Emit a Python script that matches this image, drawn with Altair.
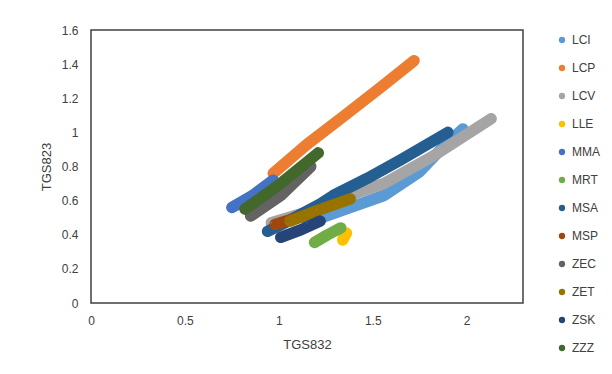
import altair as alt
import pandas as pd

# Series (TGS832 on x, TGS823 on y)
names = ["LCI", "LCP", "LCV", "LLE", "MMA", "MRT", "MSA", "MSP", "ZEC", "ZET", "ZSK", "ZZZ"]
colors = ["#5B9BD5", "#ED7D31", "#A5A5A5", "#FFC000", "#4472C4", "#70AD47",
          "#255E91", "#9E480E", "#636363", "#997300", "#264478", "#43682B"]

LCI_x = [1.15, 1.33, 1.56, 1.75, 1.88, 1.98]
LCI_y = [0.47, 0.54, 0.63, 0.77, 0.92, 1.02]
LCP_x = [0.97, 1.15, 1.34, 1.55, 1.72]
LCP_y = [0.76, 0.93, 1.09, 1.27, 1.42]
LCV_x = [0.96, 1.20, 1.40, 1.56, 1.82, 2.13]
LCV_y = [0.47, 0.55, 0.64, 0.70, 0.86, 1.08]
LLE_x = [1.34, 1.36]
LLE_y = [0.37, 0.41]
MMA_x = [0.75, 0.86, 0.97]
MMA_y = [0.56, 0.63, 0.72]
MRT_x = [1.19, 1.26, 1.33]
MRT_y = [0.355, 0.40, 0.44]
MSA_x = [0.94, 1.05, 1.22, 1.29, 1.47, 1.65, 1.90]
MSA_y = [0.42, 0.48, 0.58, 0.63, 0.73, 0.84, 1.00]
MSP_x = [0.98, 1.04, 1.10]
MSP_y = [0.46, 0.48, 0.50]
ZEC_x = [0.85, 1.01, 1.17]
ZEC_y = [0.51, 0.63, 0.80]
ZET_x = [1.06, 1.20, 1.38]
ZET_y = [0.48, 0.54, 0.61]
ZSK_x = [1.01, 1.12, 1.22]
ZSK_y = [0.385, 0.43, 0.48]
ZZZ_x = [0.82, 1.01, 1.21]
ZZZ_y = [0.55, 0.70, 0.88]

xs = [LCI_x, LCP_x, LCV_x, LLE_x, MMA_x, MRT_x, MSA_x, MSP_x, ZEC_x, ZET_x, ZSK_x, ZZZ_x]
ys = [LCI_y, LCP_y, LCV_y, LLE_y, MMA_y, MRT_y, MSA_y, MSP_y, ZEC_y, ZET_y, ZSK_y, ZZZ_y]

x_ticks = [0, 0.5, 1, 1.5, 2]
y_ticks = [0, 0.2, 0.4, 0.6, 0.8, 1, 1.2, 1.4, 1.6]

rows = []
for n, xv, yv in zip(names, xs, ys):
    for i, (a, b) in enumerate(zip(xv, yv)):
        rows.append({"series": n, "TGS832": a, "TGS823": b, "idx": i})
df = pd.DataFrame(rows)

FONT = "Liberation Sans Narrow, Liberation Sans, sans-serif"

xenc = alt.X("TGS832:Q",
             scale=alt.Scale(domain=[0, 2.3], nice=False, zero=True),
             axis=alt.Axis(values=x_ticks, title="TGS832", grid=False, ticks=False,
                           domain=False, labelPadding=12, titlePadding=12,
                           labelFlush=False, format="~g"))
yenc = alt.Y("TGS823:Q",
             scale=alt.Scale(domain=[0, 1.6], nice=False),
             axis=alt.Axis(values=y_ticks, title="TGS823", grid=False, ticks=False,
                           domain=False, labelPadding=13, titlePadding=8,
                           labelFlush=False, format="~g"))
cscale = alt.Scale(domain=names, range=colors)

base = alt.Chart(df)

lines = base.mark_line(
    strokeWidth=11.5, strokeCap="round", strokeJoin="round"
).encode(
    x=xenc, y=yenc,
    color=alt.Color("series:N", scale=cscale, legend=None),
    order="idx:Q",
)

dots = base.mark_circle(size=1, opacity=1).encode(
    x=xenc, y=yenc,
    color=alt.Color("series:N", scale=cscale,
                    legend=alt.Legend(
                        title=None, orient="none", legendX=465, legendY=4,
                        symbolType="circle", symbolSize=40, symbolStrokeWidth=0,
                        symbolOpacity=1,
                        rowPadding=16, labelFontSize=12, labelOffset=4)),
)

chart = alt.layer(lines, dots).resolve_legend(color="independent").properties(
    width=432, height=273,
    autosize="none",
    padding={"left": 91, "top": 30, "right": 89, "bottom": 71},
).configure_view(
    stroke="#404040", strokeWidth=1.5
).configure_axis(
    labelFont=FONT, titleFont=FONT, labelFontSize=12, titleFontSize=13,
    labelColor="#404040", titleColor="#404040", titleFontWeight="normal"
).configure_legend(
    labelFont=FONT, labelColor="#404040"
)

chart.save("out.html", embed_options={"renderer": "svg", "actions": False})
